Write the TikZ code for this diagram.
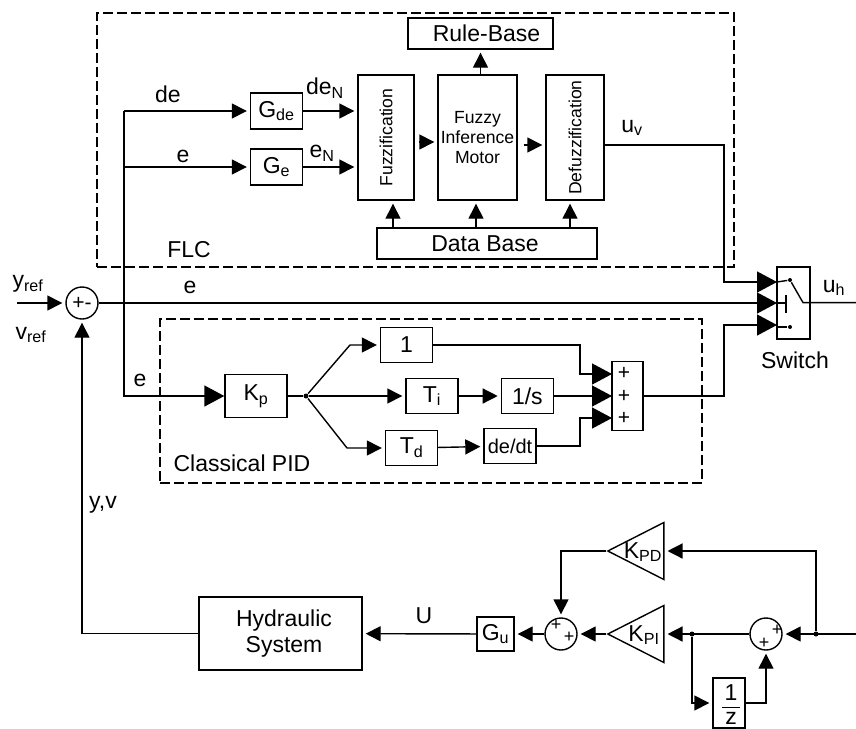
\documentclass[tikz,border=0pt]{standalone}
\usepackage{fontspec}
\setmainfont{Liberation Sans}
\usepackage{tikz}
\usetikzlibrary{arrows.meta,positioning,shapes.geometric}

\begin{document}
\begin{tikzpicture}[x=1pt,y=-1pt,
 line width=1.4pt,
 box/.style={draw,align=center,inner sep=0pt,minimum width=52pt,minimum height=35pt,font=\fontsize{23}{26}\selectfont},
 tall/.style={box,minimum height=125pt,font=\fontsize{17.6}{20}\selectfont},
 lbl/.style={inner sep=0pt,font=\fontsize{23}{26}\selectfont},
 sign/.style={inner sep=0pt,font=\fontsize{21}{22}\selectfont},
 small sign/.style={inner sep=0pt,font=\fontsize{18}{18}\selectfont},
 sumnode/.style={draw,circle,minimum size=32pt,inner sep=0pt,font=\fontsize{21}{22}\selectfont},
 gain/.style={draw,isosceles triangle,shape border rotate=180,isosceles triangle stretches,
  minimum width=57pt,minimum height=56pt,inner sep=0pt},
 frame/.style={draw,dash pattern=on 10pt off 4pt,inner sep=0pt},
 junction/.style={circle,fill,inner sep=0pt,minimum size=5pt},
 tip/.style={-{Triangle[length=15pt,width=15pt]},shorten >=3pt},
 bigtip/.style={-{Triangle[length=20pt,width=21pt]}}]
\useasboundingbox (0,0) rectangle (856,728);

% fuzzy part
\node[frame,minimum width=637pt,minimum height=254pt] (flc) at (415.5,140) {};
\node[tall,minimum width=56pt] (fuzz) at (386,137.5) {\rotatebox{90}{Fuzzification}};
\node[tall,minimum width=79pt] (motor) at (477.5,137.5) {Fuzzy\\Inference\\Motor};
\node[tall,minimum width=58pt] (defuzz) at (575,137.5) {\rotatebox{90}{Defuzzification}};
\node[box,minimum width=145pt,minimum height=31pt] (rule) at (480.5,33.5) {\hspace*{12pt}Rule-Base};
\node[box,minimum width=220pt,minimum height=31pt] (data) at (487,243.5) {\hspace*{-4pt}Data Base};
\node[box,minimum height=36pt] (gde) at (276.5,111) {G\textsubscript{de}};
\node[box,minimum height=36pt] (ge) at (276.5,167) {G\textsubscript{e}};

% PID part
\node[frame,minimum width=542pt,minimum height=164pt] (pid) at (431,401) {};
\node[box,minimum width=62pt,minimum height=43pt] (kp) at (256,396) {K\textsubscript{p}};
\node[junction] (fork) at (306,396) {};
\node[box] (one) at (406.5,345) {1};
\node[box] (ti) at (432,396) {T\textsubscript{i}};
\node[box,right=42pt of ti] (integ) {1/s};
\node[box] (td) at (411.5,448) {T\textsubscript{d}};
\node[box,font=\fontsize{20}{24}\selectfont] (deriv) at (510,446) {de/dt};
\node[box,minimum width=31pt,minimum height=69pt] (plus) at (627.5,396) {};
\node[sign] (pa) at (624,373) {+};
\node[sign] (pb) at (624,396) {+};
\node[sign] (pc) at (624,418) {+};

% switch
\node[box,minimum width=33pt,minimum height=72pt] (switch) at (793.5,303) {};
\node[sumnode] (err) at (82,303) {+-};

% lower part
\node[box,minimum width=163pt,minimum height=73pt] (hyd) at (280.5,633.5) {\hspace*{7pt}Hydraulic\\\hspace*{7pt}System};
\node[box,minimum width=37pt,minimum height=34pt] (gu) at (495.5,634) {G\textsubscript{u}};
\node[sumnode] (sumu) at (561,634) {};
\node[gain,anchor=apex] (kpi) at (606,634) {};
\node[gain,anchor=apex] (kpd) at (606,551) {};
\node[sumnode] (sumi) at (766,634) {};
\node[box,minimum width=32pt,minimum height=50pt] (dly) at (729,703) {};
\node[junction] (jpd) at (816,634) {};
\node[junction] (jz) at (692,634) {};

% signs, labels
\node[lbl] (yref) at (28,284) {y\textsubscript{ref}};
\node[lbl] (vref) at (31,335) {v\textsubscript{ref}};
\node[lbl] (le) at (190,287) {e};
\node[lbl] (lepid) at (140,380) {e};
\node[lbl] (lefl) at (183,156) {e};
\node[lbl] (lde) at (168,94) {de};
\node[lbl] (ldn) at (325,88) {de\textsubscript{N}};
\node[lbl] (len) at (322,153) {e\textsubscript{N}};
\node[lbl] (luv) at (632,128) {u\textsubscript{v}};
\node[lbl] (luh) at (834,288) {u\textsubscript{h}};
\node[lbl] (lsw) at (795,360) {Switch};
\node[lbl] (lflc) at (189,250) {FLC};
\node[lbl] (lpid) at (242,463) {Classical PID};
\node[lbl] (lyv) at (103,505) {y,v};
\node[lbl] (lu) at (424,616) {U};
\node[lbl] (lkpd) at (643,552) {K\textsubscript{PD}};
\node[lbl] (lkpi) at (644,635) {K\textsubscript{PI}};
\node[small sign] (s1) at (556,625) {+};
\node[small sign] (s2) at (569,637) {+};
\node[small sign] (s3) at (777,630) {+};
\node[small sign] (s4) at (764,643) {+};
\node[lbl] (zn) at (731,693) {1};
\node[lbl] (zd) at (731,718) {z};
\draw[line width=0.8pt] (722,707) -- (740,707);

% free ends and corners
\coordinate (in) at (17,303);
\coordinate (out) at (856,302.6);
\coordinate (inr) at (856,634);
\coordinate (tap) at (124,303);
\coordinate (sw1) at (777,282);
\coordinate (sw2) at (777,303);
\coordinate (sw3) at (777,325);
\coordinate (pl1) at (612,374);
\coordinate (pl2) at (612,396);
\coordinate (pl3) at (612,418);

% signal lines
\draw[tip] (in)--(err);
\draw[bigtip] (err)--(sw2);
\draw (tap)--(tap|-gde);
\draw[tip] (tap|-gde)--(gde);
\draw[tip] (tap|-ge)--(ge);
\draw[bigtip] (tap)--(tap|-kp)--(kp);
\draw[tip] (gde)--(gde-|fuzz.west);
\draw[tip] (ge)--(ge-|fuzz.west);
\draw[tip,shorten <=4pt] (fuzz.east|-0,142)--(motor.west|-0,142);
\draw[tip,shorten <=6pt] (motor.east|-0,145)--(defuzz.west|-0,145);
\draw[tip] (motor.north-|rule)--(rule);
\draw[tip] (data.north-|393,0)--(fuzz.south-|393,0);
\draw[tip] (data.north-|476,0)--(motor.south-|476,0);
\draw[tip] (data.north-|570,0)--(defuzz.south-|570,0);
\draw[bigtip] (defuzz.east|-0,145)--(724,145)--(724,282)--(sw1);
\draw (kp)--(fork);
\draw[tip] (fork)--(350,345)--(one);
\draw[tip] (fork)--(ti);
\draw[tip] (fork)--(347,448)--(td);
\draw[tip] (ti)--(integ);
\draw[tip] (td)--(deriv);
\draw[bigtip] (one)--(580,345)--(580,374)--(pl1);
\draw[bigtip] (integ)--(pl2);
\draw[bigtip] (deriv)--(580,446)--(580,418)--(pl3);
\draw[bigtip] (plus)--(724,396)--(724,325)--(sw3);

% inside the switch
\node[junction,minimum size=4pt] (swa) at (790,280) {};
\node[junction,minimum size=4pt] (swb) at (790,327) {};
\coordinate (swc) at (803,302.6);
\draw (sw1)--(swa)--(swc)--(switch.east|-swc)--(out);
\draw (sw2)--(786,303);
\draw (786,295)--(786,313);
\draw (swb-|switch.west)--(swb);

% lower loop
\draw[tip] (inr)--(sumi);
\draw[tip] (jpd)--(jpd|-kpd.lower side)--(kpd.lower side);
\draw[tip] (sumi)--(kpi.lower side);
\draw[tip] (jz)--(jz|-dly)--(dly);
\draw[tip] (dly)--(sumi|-dly)--(sumi);
\draw[tip] (kpi.apex)--(sumu);
\draw[tip] (kpd.apex)--(sumu|-kpd.apex)--(sumu);
\draw[tip] (sumu)--(gu);
\draw[tip] (gu)--(hyd);
\draw[tip] (hyd)--(err|-hyd)--(err);
\end{tikzpicture}
\end{document}
